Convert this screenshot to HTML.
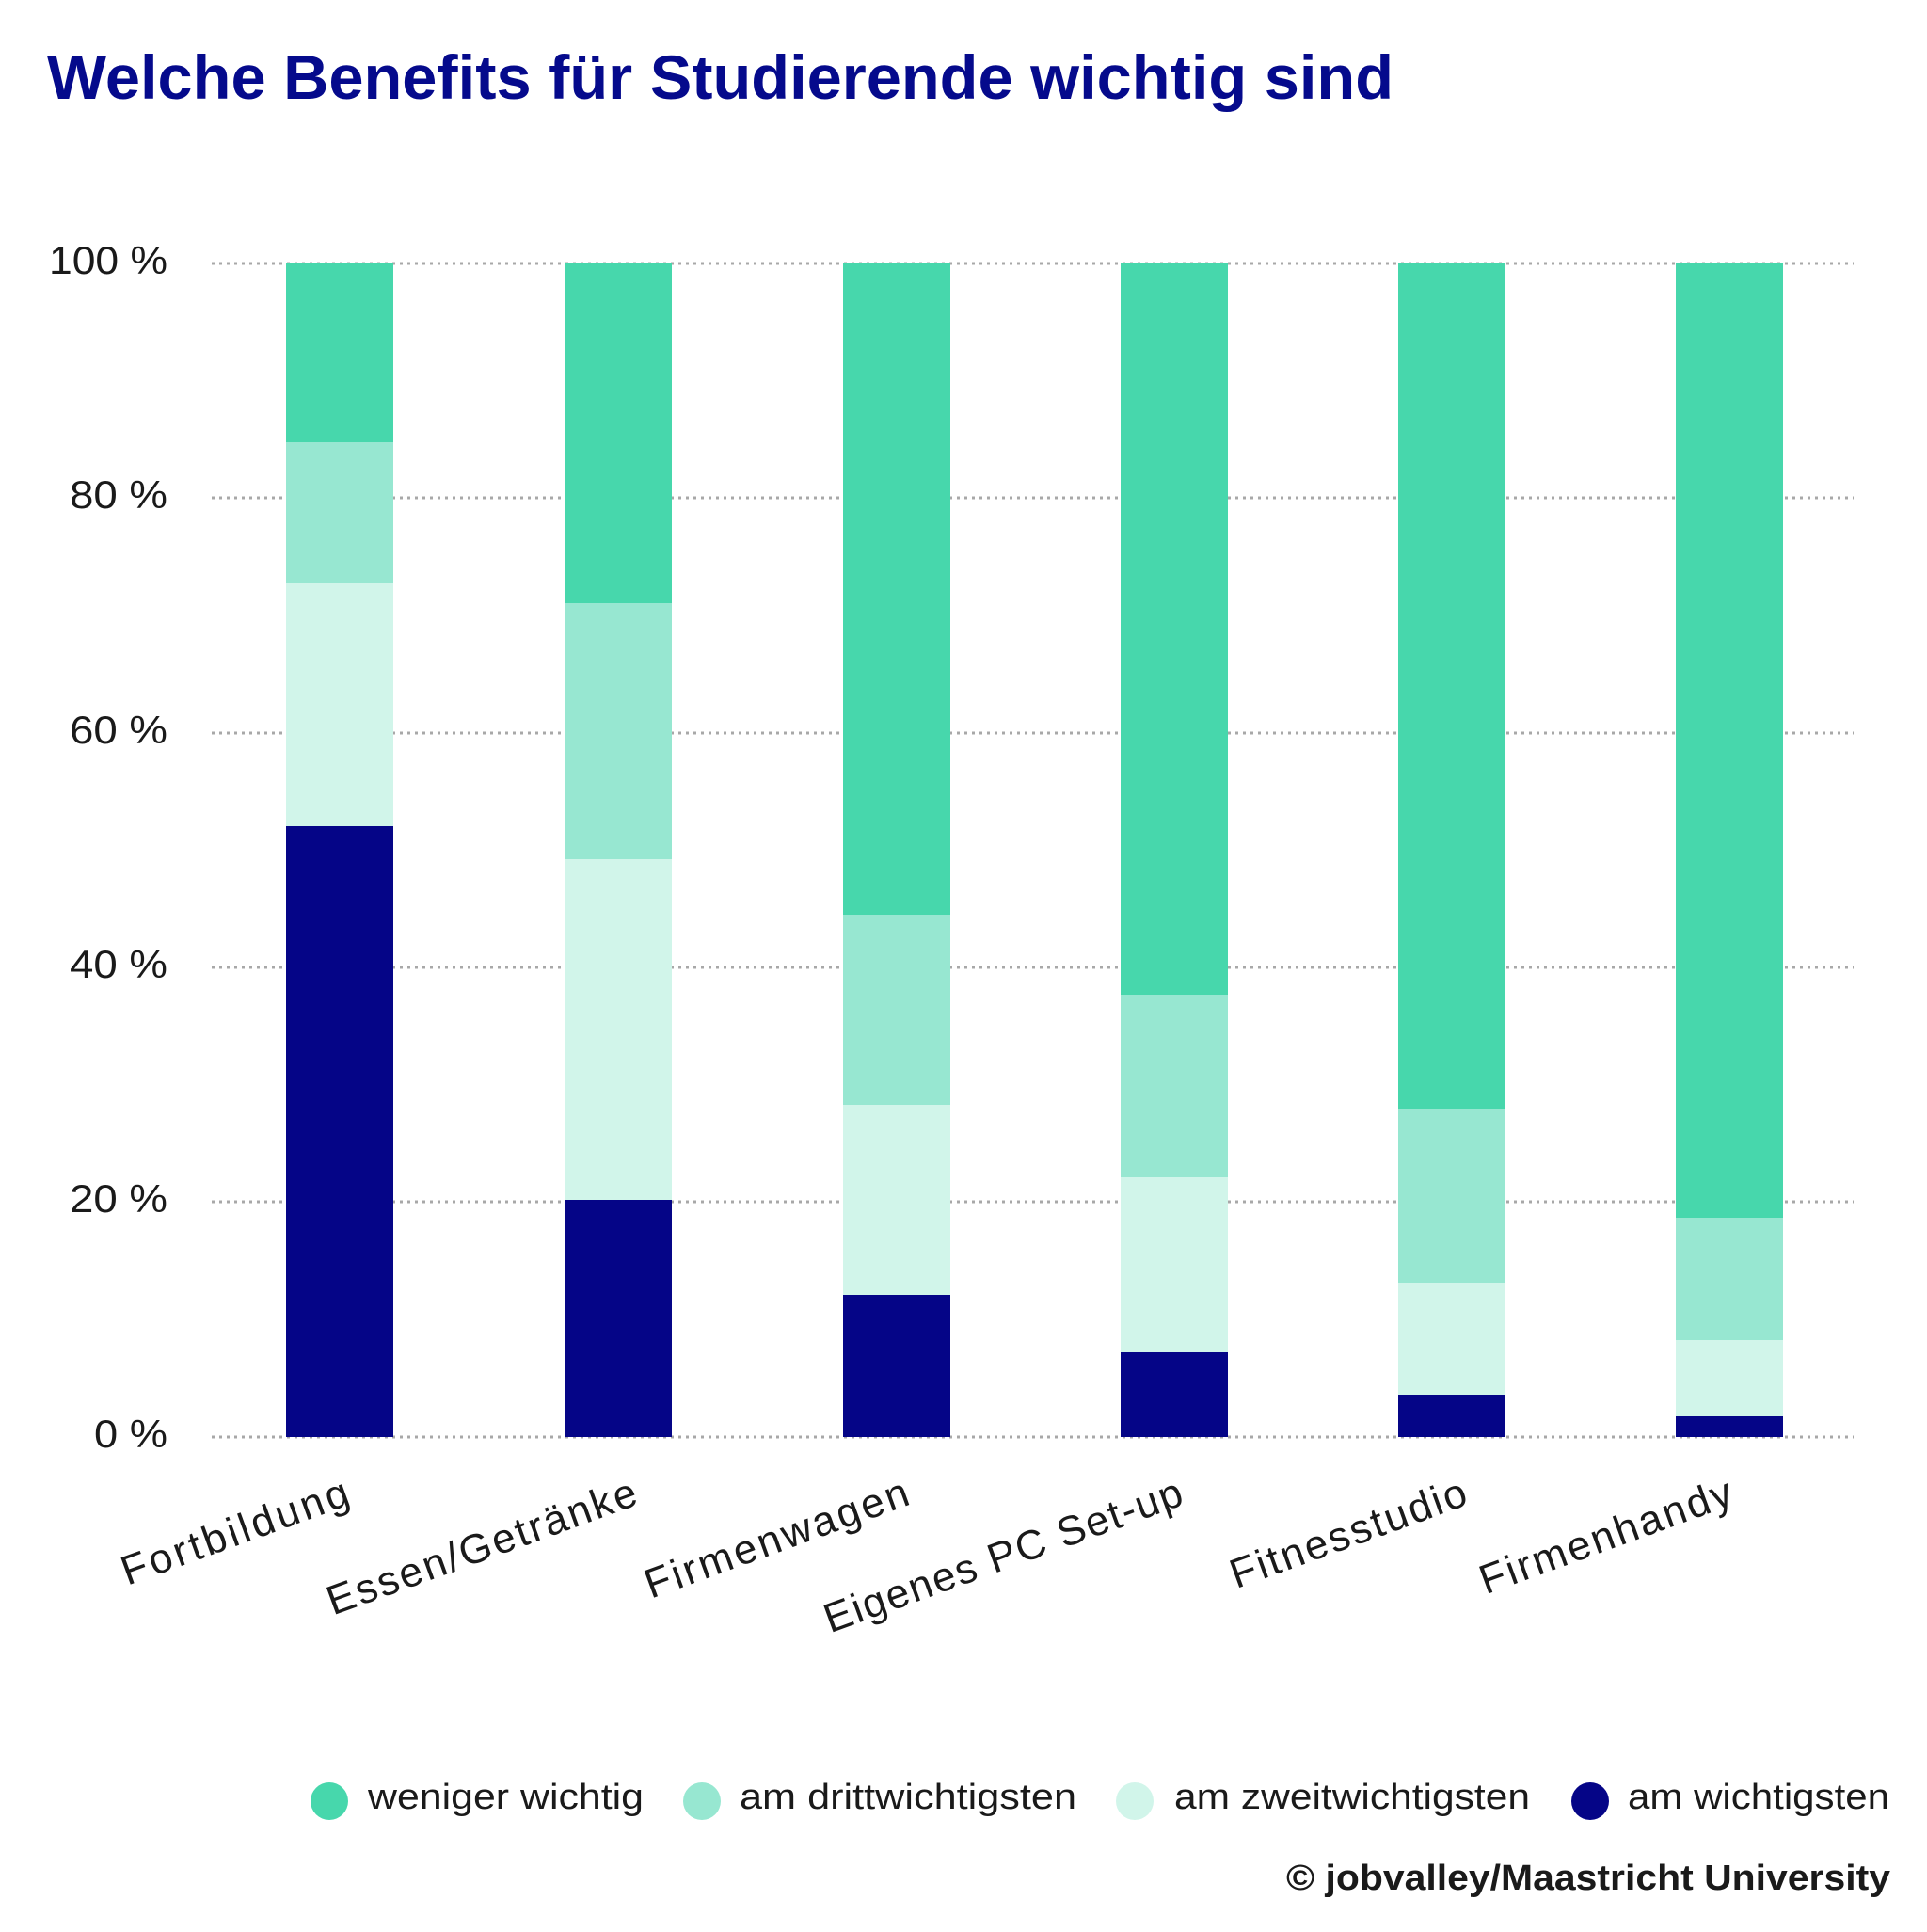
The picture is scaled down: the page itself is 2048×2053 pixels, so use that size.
<!DOCTYPE html>
<html><head><meta charset="utf-8"><style>html,body{margin:0;padding:0;background:#fff}</style></head>
<body>
<svg width="2048" height="2048" viewBox="0 0 2048 2048" xmlns="http://www.w3.org/2000/svg" font-family="Liberation Sans, sans-serif">
<rect width="2048" height="2048" fill="#fff"/>
<text x="50" y="105" font-size="66" font-weight="bold" fill="#050a8c" textLength="1431" lengthAdjust="spacingAndGlyphs">Welche Benefits für Studierende wichtig sind</text>
<g stroke="#a8a8a8" stroke-width="3" stroke-dasharray="3,5">
<line x1="225" x2="1970" y1="280" y2="280"/>
<line x1="225" x2="1970" y1="529" y2="529"/>
<line x1="225" x2="1970" y1="779" y2="779"/>
<line x1="225" x2="1970" y1="1028" y2="1028"/>
<line x1="225" x2="1970" y1="1277" y2="1277"/>
<line x1="225" x2="1970" y1="1527" y2="1527"/>
</g>
<g font-size="42" fill="#1a1a1a" text-anchor="end">
<text x="178" y="291" textLength="126" lengthAdjust="spacingAndGlyphs">100 %</text>
<text x="178" y="540" textLength="104" lengthAdjust="spacingAndGlyphs">80 %</text>
<text x="178" y="790" textLength="104" lengthAdjust="spacingAndGlyphs">60 %</text>
<text x="178" y="1039" textLength="104" lengthAdjust="spacingAndGlyphs">40 %</text>
<text x="178" y="1288" textLength="104" lengthAdjust="spacingAndGlyphs">20 %</text>
<text x="178" y="1538" textLength="78" lengthAdjust="spacingAndGlyphs">0 %</text>
</g>
<g>
<rect x="304" y="280" width="114" height="190" fill="#47d7ac"/>
<rect x="304" y="470" width="114" height="150" fill="#97e7d1"/>
<rect x="304" y="620" width="114" height="258" fill="#d1f5ea"/>
<rect x="304" y="878" width="114" height="649" fill="#050587"/>
<rect x="600" y="280" width="114" height="361" fill="#47d7ac"/>
<rect x="600" y="641" width="114" height="272" fill="#97e7d1"/>
<rect x="600" y="913" width="114" height="362" fill="#d1f5ea"/>
<rect x="600" y="1275" width="114" height="252" fill="#050587"/>
<rect x="896" y="280" width="114" height="692" fill="#47d7ac"/>
<rect x="896" y="972" width="114" height="202" fill="#97e7d1"/>
<rect x="896" y="1174" width="114" height="202" fill="#d1f5ea"/>
<rect x="896" y="1376" width="114" height="151" fill="#050587"/>
<rect x="1191" y="280" width="114" height="777" fill="#47d7ac"/>
<rect x="1191" y="1057" width="114" height="194" fill="#97e7d1"/>
<rect x="1191" y="1251" width="114" height="186" fill="#d1f5ea"/>
<rect x="1191" y="1437" width="114" height="90" fill="#050587"/>
<rect x="1486" y="280" width="114" height="898" fill="#47d7ac"/>
<rect x="1486" y="1178" width="114" height="185" fill="#97e7d1"/>
<rect x="1486" y="1363" width="114" height="119" fill="#d1f5ea"/>
<rect x="1486" y="1482" width="114" height="45" fill="#050587"/>
<rect x="1781" y="280" width="114" height="1014" fill="#47d7ac"/>
<rect x="1781" y="1294" width="114" height="130" fill="#97e7d1"/>
<rect x="1781" y="1424" width="114" height="81" fill="#d1f5ea"/>
<rect x="1781" y="1505" width="114" height="22" fill="#050587"/>
</g>
<g font-size="44" fill="#1a1a1a" text-anchor="end" lengthAdjust="spacingAndGlyphs">
<text transform="translate(374,1598) rotate(-20)" textLength="254">Fortbildung</text>
<text transform="translate(680,1598) rotate(-20)" textLength="347">Essen/Getränke</text>
<text transform="translate(969,1598) rotate(-20)" textLength="295">Firmenwagen</text>
<text transform="translate(1260,1598) rotate(-20)" textLength="402">Eigenes PC Set-up</text>
<text transform="translate(1562,1598) rotate(-20)" textLength="264">Fitnesstudio</text>
<text transform="translate(1844,1598) rotate(-20)" textLength="282">Firmenhandy</text>
</g>
<g font-size="38" fill="#1a1a1a">
<circle cx="350" cy="1914" r="20" fill="#47d7ac"/>
<text x="391" y="1922" textLength="293" lengthAdjust="spacingAndGlyphs">weniger wichtig</text>
<circle cx="746" cy="1914" r="20" fill="#97e7d1"/>
<text x="786" y="1922" textLength="358" lengthAdjust="spacingAndGlyphs">am drittwichtigsten</text>
<circle cx="1206" cy="1914" r="20" fill="#d1f5ea"/>
<text x="1248" y="1922" textLength="378" lengthAdjust="spacingAndGlyphs">am zweitwichtigsten</text>
<circle cx="1690" cy="1914" r="20" fill="#050587"/>
<text x="1730" y="1922" textLength="278" lengthAdjust="spacingAndGlyphs">am wichtigsten</text>
</g>
<text x="2009" y="2008" font-size="38" font-weight="bold" fill="#1a1a1a" text-anchor="end" textLength="642" lengthAdjust="spacingAndGlyphs">© jobvalley/Maastricht University</text>
</svg>
</body></html>
